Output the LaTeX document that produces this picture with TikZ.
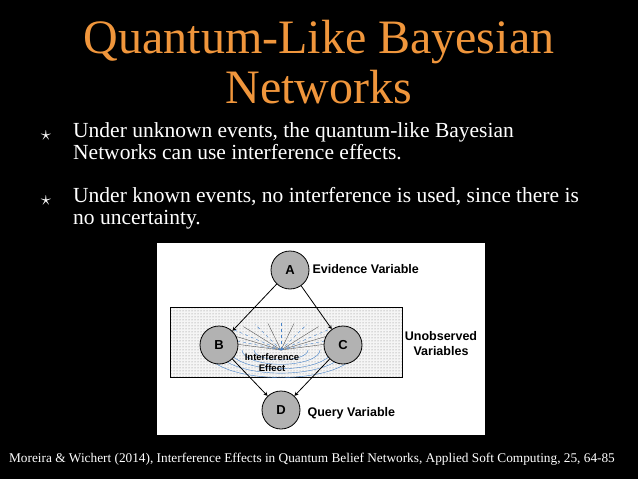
\documentclass[tikz,border=0pt]{standalone}
\usepackage{fontspec}
\setmainfont{Liberation Serif}
\setsansfont{Liberation Sans}
\usetikzlibrary{patterns}
\definecolor{titleorange}{RGB}{240,150,60}
\definecolor{meshblue}{RGB}{70,130,200}
\tikzset{
  var/.style={circle, draw=black, thick, fill=gray!60, minimum size=38pt,
    inner sep=0pt, font=\sffamily\bfseries\fontsize{13}{15}\selectfont},
  lbl/.style={font=\sffamily\bfseries\fontsize{12.5}{15}\selectfont, align=center},
  link/.style={->, >=stealth, thick},
  bullet/.style={white, font=\fontsize{21.5}{22}\selectfont}
}
\begin{document}
\begin{tikzpicture}[x=1pt, y=-1pt]
  % Background
  \fill[black] (0,0) rectangle (638,479);
  \useasboundingbox (0,0) rectangle (638,479);

  % Title
  \node[titleorange, font=\fontsize{48}{50}\selectfont, align=center] (title) at (319,62)
    {Quantum-Like Bayesian\\Networks};

  % Bullets
  \node[bullet] (star1) at (46,136) {$\star$};
  \node[bullet, anchor=north west, align=left, inner sep=0pt] (b1) at (73,122)
    {Under unknown events, the quantum-like Bayesian\\Networks can use interference effects.};
  \node[bullet] (star2) at (46,201) {$\star$};
  \node[bullet, anchor=north west, align=left, inner sep=0pt] (b2) at (73,187)
    {Under known events, no interference is used, since there is\\no uncertainty.};

  % Diagram panel
  \fill[white] (157,243) rectangle (485,435);
  \fill[gray!8] (170,307) rectangle (402,377);
  \fill[pattern=dots, pattern color=gray] (170,307) rectangle (402,377);
  \draw[thick] (170,307) rectangle (402,377);

  % Interference mesh
  \foreach \r in {18,26,34,42,50}
    \draw[meshblue, thin] (281-\r*1.5,350) arc[start angle=180, end angle=0, x radius=\r*1.5, y radius=\r*0.55];
  \foreach \a in {20,40,...,160}
    \draw[gray!70!black, thin] (281,350) -- ++({75*cos(\a)},{-27*sin(\a)});
  \foreach \a in {30,50,...,150}
    \draw[meshblue, thin, dashed] (281,350) -- ++({75*cos(\a)},{-27*sin(\a)});

  % Nodes
  \node[var] (A) at (290,270) {A};
  \node[var] (B) at (219,345) {B};
  \node[var] (C) at (343,345) {C};
  \node[var] (D) at (281,410) {D};

  % Edges
  \draw[link] (A) -- (B);
  \draw[link] (A) -- (C);
  \draw[link] (B) -- (D);
  \draw[link] (C) -- (D);

  % Labels
  \node[lbl, anchor=west] (ev) at (309,269) {Evidence Variable};
  \node[lbl] (unobs) at (441,344) {Unobserved\\Variables};
  \node[lbl, anchor=west] (query) at (304,413) {Query Variable};
  \node[lbl, font=\sffamily\bfseries\fontsize{9.5}{11}\selectfont, inner sep=0pt] (interf) at (272,363) {Interference\\Effect};

  % Citation
  \node[white, font=\fontsize{13.3}{15}\selectfont] (cite) at (312,459)
    {Moreira \& Wichert (2014), Interference Effects in Quantum Belief Networks, Applied Soft Computing, 25, 64-85};
\end{tikzpicture}
\end{document}
